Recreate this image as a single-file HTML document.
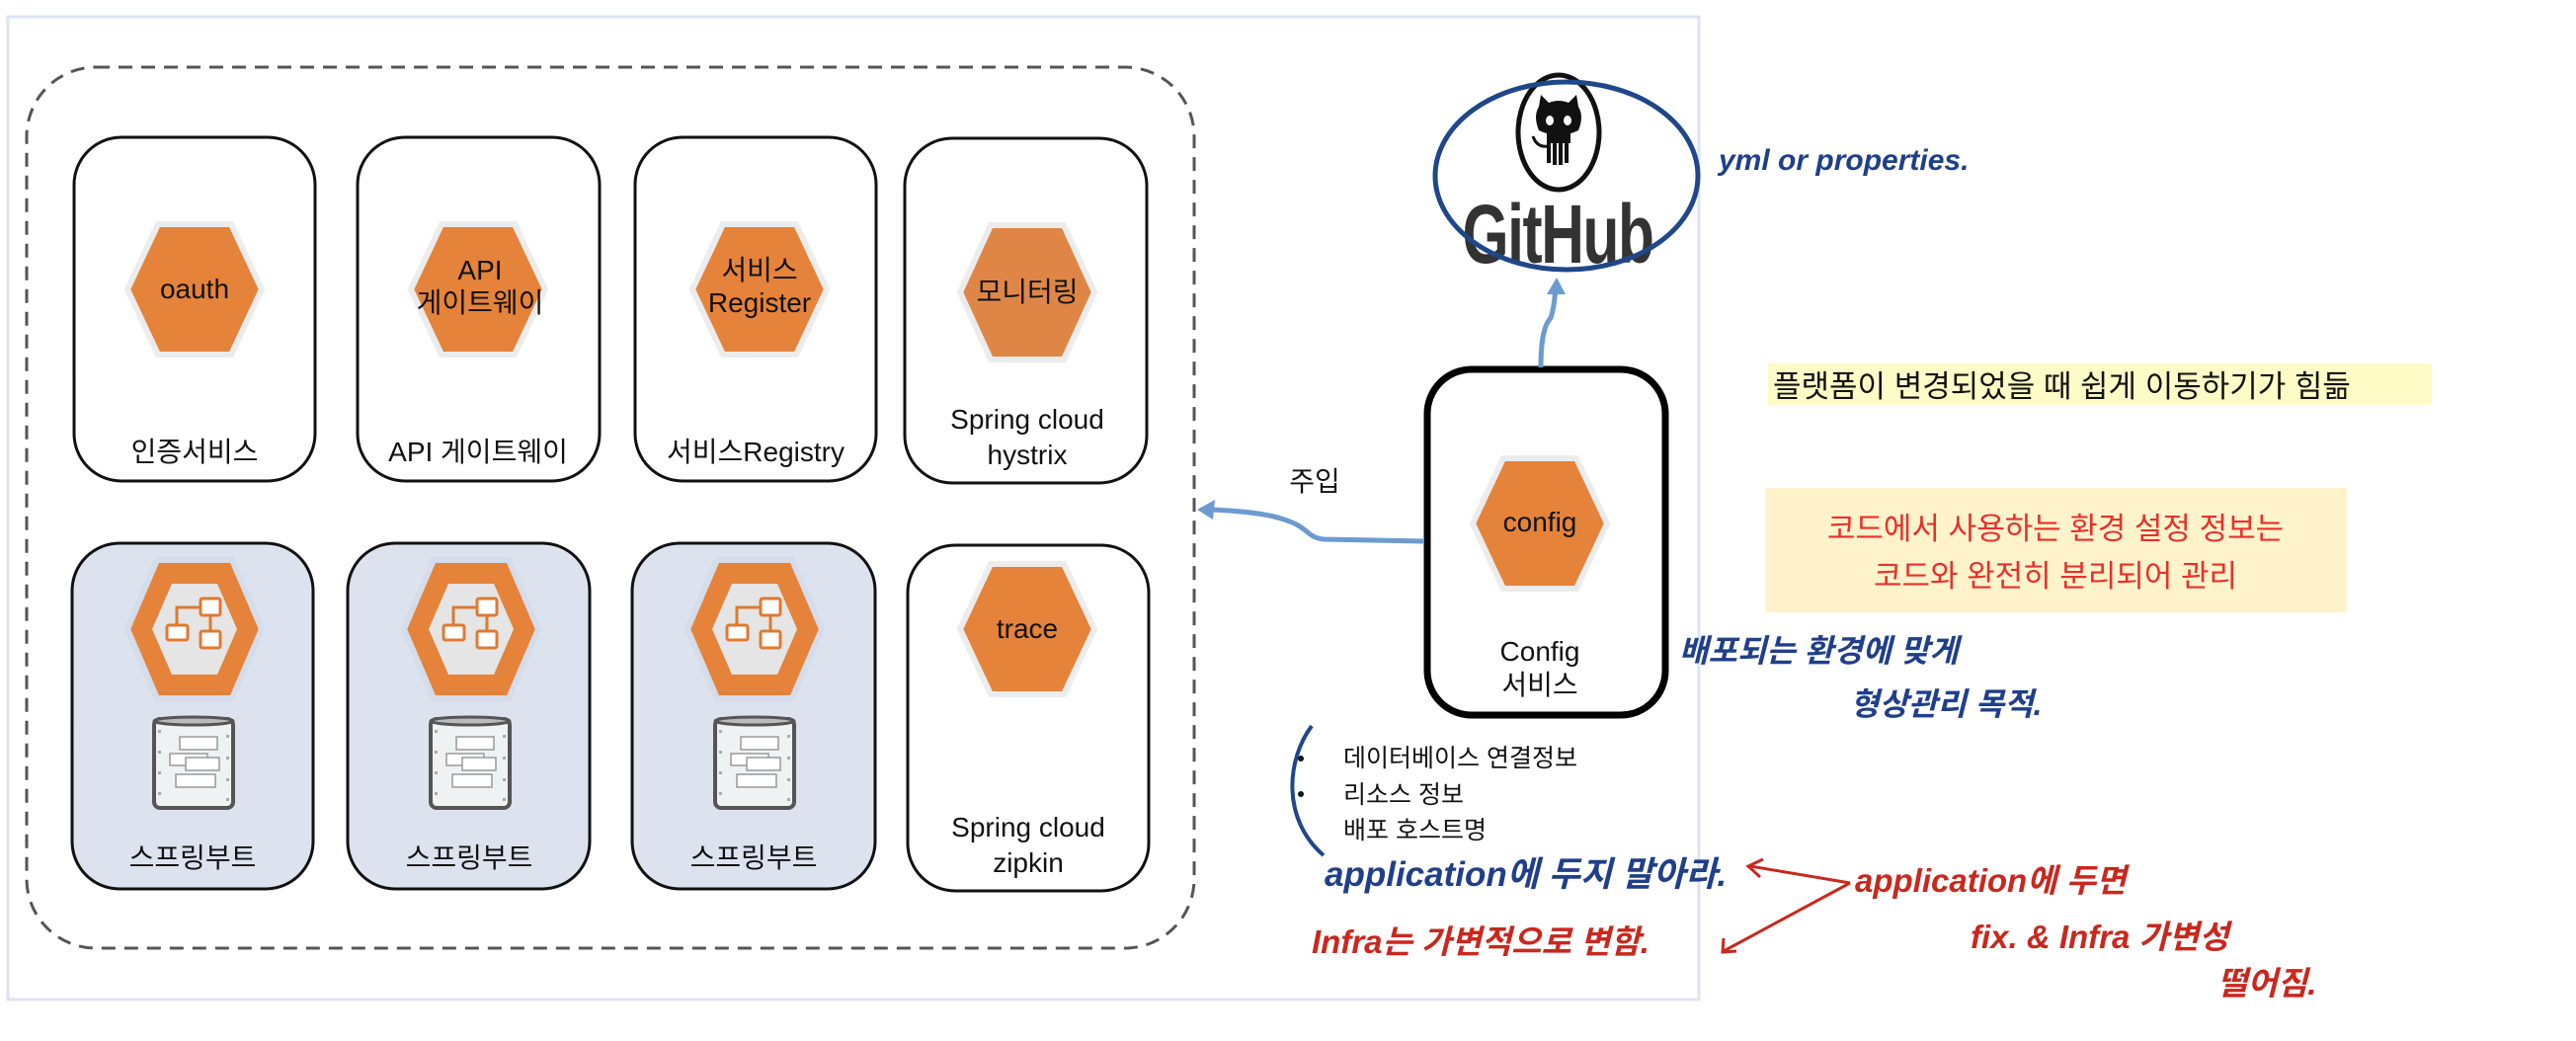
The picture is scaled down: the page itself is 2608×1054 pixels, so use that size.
<!DOCTYPE html>
<html><head><meta charset="utf-8"><style>
html,body{margin:0;padding:0;background:#fff}
svg{display:block}
text{font-family:"Liberation Sans","Noto Sans CJK KR",sans-serif}
.hw{font-family:"Liberation Serif","NanumGothic",serif;font-style:italic}
</style></head><body>
<svg width="2608" height="1054" viewBox="0 0 2608 1054" xmlns="http://www.w3.org/2000/svg">
<defs>
<g id="hexsolid"><polygon points="-37,-66 37,-66 68,0 37,66 -37,66 -68,0" fill="#e5833a" stroke="#ececec" stroke-width="6"/></g>
<g id="boot">
<polygon points="-38,-70 38,-70 68,0 38,70 -38,70 -68,0" fill="#e5833a" stroke="#d5dcea" stroke-width="6"/>
<polygon points="-23,-46 23,-46 43,0 23,46 -23,46 -43,0" fill="#e5e5e5"/>
<g fill="#fff" stroke="#e07a30" stroke-width="3">
<rect x="6" y="-31" width="20" height="17" rx="2"/>
<rect x="6" y="2" width="20" height="17" rx="2"/>
<rect x="-28" y="-4" width="21" height="15" rx="2"/>
</g>
<path d="M-18,-4 V-22 H6 M16,-14 V2" fill="none" stroke="#e07a30" stroke-width="3"/>
</g>
<g id="db">
<rect x="-40" y="-44" width="80" height="90" rx="6" fill="#eef2f3" stroke="#555" stroke-width="4"/>
<ellipse cx="0" cy="-42" rx="40" ry="4" fill="#bbb" stroke="#555" stroke-width="3"/>
<g fill="#fff" stroke="#999" stroke-width="1.5">
<rect x="-14" y="-26" width="38" height="13"/><rect x="-24" y="-9" width="38" height="12"/><rect x="-8" y="-5" width="34" height="13"/><rect x="-18" y="12" width="40" height="13"/>
</g>
<g fill="#aaa"><rect x="-36" y="-33" width="3" height="3"/><rect x="-36" y="-12" width="3" height="3"/><rect x="-36" y="9" width="3" height="3"/><rect x="-36" y="30" width="3" height="3"/><rect x="33" y="-28" width="3" height="3"/><rect x="33" y="-6" width="3" height="3"/><rect x="33" y="16" width="3" height="3"/><rect x="33" y="36" width="3" height="3"/></g>
</g>
</defs>

<rect x="8" y="17" width="1712" height="995" fill="none" stroke="#dde3f3" stroke-width="3"/>
<rect x="27" y="68" width="1182" height="892" rx="70" fill="none" stroke="#555" stroke-width="3" stroke-dasharray="14,9"/>

<g fill="#fff" stroke="#111" stroke-width="3">
<rect x="75" y="139" width="244" height="348" rx="48"/>
<rect x="362" y="139" width="245" height="348" rx="48"/>
<rect x="643" y="139" width="244" height="348" rx="48"/>
<rect x="916" y="140" width="245" height="349" rx="48"/>
</g>
<g fill="#dce3ef" stroke="#111" stroke-width="3">
<rect x="73" y="550" width="244" height="350" rx="48"/>
<rect x="352" y="550" width="245" height="350" rx="48"/>
<rect x="640" y="550" width="246" height="350" rx="48"/>
</g>
<rect x="919" y="552" width="244" height="350" rx="48" fill="#fff" stroke="#111" stroke-width="3"/>

<use href="#hexsolid" x="197" y="293"/>
<use href="#hexsolid" x="484" y="293"/>
<use href="#hexsolid" x="769" y="293"/>
<g transform="translate(1040,296)"><polygon points="-37,-68 37,-68 68,0 37,68 -37,68 -68,0" fill="#df8646" stroke="#ececec" stroke-width="6"/></g>
<use href="#hexsolid" x="1040" y="637"/>

<g font-size="28" text-anchor="middle" fill="#111">
<text x="197" y="302">oauth</text>
<text x="486" y="283">API</text><text x="486" y="316">게이트웨이</text>
<text x="769" y="283">서비스</text><text x="769" y="316">Register</text>
<text x="1040" y="305">모니터링</text>
<text x="1040" y="646">trace</text>
<text x="197" y="467">인증서비스</text>
<text x="484" y="467">API 게이트웨이</text>
<text x="765" y="467">서비스Registry</text>
<text x="1040" y="434">Spring cloud</text><text x="1040" y="470">hystrix</text>
<text x="1041" y="847">Spring cloud</text><text x="1041" y="883">zipkin</text>
<text x="195" y="878">스프링부트</text>
<text x="475" y="878">스프링부트</text>
<text x="763" y="878">스프링부트</text>
</g>

<use href="#boot" x="197" y="637"/>
<use href="#boot" x="477" y="637"/>
<use href="#boot" x="764" y="637"/>
<use href="#db" x="196" y="772"/>
<use href="#db" x="476" y="772"/>
<use href="#db" x="764" y="772"/>

<rect x="1445" y="374" width="241" height="350" rx="45" fill="#fff" stroke="#000" stroke-width="7"/>
<use href="#hexsolid" x="1559" y="530"/>
<g font-size="28" text-anchor="middle" fill="#111">
<text x="1559" y="538">config</text>
<text x="1559" y="669">Config</text>
<text x="1559" y="703">서비스</text>
<text x="1331" y="497">주입</text>
</g>

<path d="M1442,548 L1340,546 C1322,544 1326,534 1300,526 C1280,519 1250,517 1225,516" fill="none" stroke="#6b9bd1" stroke-width="5"/>
<polygon points="1212,516 1230,506 1228,526" fill="#6b9bd1"/>
<path d="M1560,372 C1560,350 1562,330 1570,322 C1574,310 1574,300 1575,292" fill="none" stroke="#6b9bd1" stroke-width="5"/>
<polygon points="1576,281 1566,298 1585,298" fill="#6b9bd1"/>

<ellipse cx="1578" cy="134" rx="41" ry="58" fill="#fff" stroke="#111" stroke-width="5"/>
<g fill="#111">
<path d="M1558,108 L1560,96 L1568,104 Q1578,100 1588,104 L1596,96 L1598,108 Q1604,118 1598,132 Q1578,142 1558,132 Q1552,118 1558,108Z"/>
<rect x="1566" y="135" width="24" height="10"/>
<path d="M1568,143 v22 M1574,143 v24 M1580,143 v24 M1586,143 v22" stroke="#111" stroke-width="4"/>
<path d="M1568,148 q-12,2 -16,-10" stroke="#111" stroke-width="3" fill="none"/>
</g>
<ellipse cx="1569" cy="122" rx="4" ry="5" fill="#fff"/><ellipse cx="1587" cy="122" rx="4" ry="5" fill="#fff"/>
<text x="1577" y="266" font-size="84" font-weight="bold" text-anchor="middle" fill="#333" transform="translate(1577,0) scale(0.72,1) translate(-1577,0)" letter-spacing="-2">GitHub</text>
<ellipse cx="1586" cy="178" rx="133" ry="95" fill="none" stroke="#1f4789" stroke-width="5"/>

<rect x="1790" y="368" width="672" height="42" fill="#fdfbc6"/>
<text x="1795" y="402" font-size="31" fill="#111">플랫폼이 변경되었을 때 쉽게 이동하기가 힘듦</text>
<rect x="1787" y="494" width="589" height="126" fill="#fff3cc"/>
<g font-size="31" fill="#e8302a" text-anchor="middle">
<text x="2081" y="546">코드에서 사용하는 환경 설정 정보는</text>
<text x="2081" y="594">코드와 완전히 분리되어 관리</text>
</g>

<g font-size="25" fill="#111">
<text x="1360" y="776">데이터베이스 연결정보</text>
<text x="1360" y="813">리소스 정보</text>
<text x="1360" y="849">배포 호스트명</text>
<circle cx="1317" cy="768" r="3"/><circle cx="1317" cy="804" r="3"/>
</g>
<path d="M1328,735 C1302,770 1298,830 1340,866" fill="none" stroke="#1f4789" stroke-width="4"/>

<g class="hw" fill="#1f3f8a" font-weight="bold">
<text x="1740" y="172" font-size="30">yml or properties.</text>
<text x="1700" y="670" font-size="32">배포되는 환경에 맞게</text>
<text x="1873" y="724" font-size="32">형상관리 목적.</text>
<text x="1341" y="897" font-size="35">application에 두지 말아라.</text>
</g>
<g class="hw" fill="#c8281e" font-weight="bold">
<text x="1328" y="965" font-size="33">Infra는 가변적으로 변함.</text>
<text x="1878" y="903" font-size="33">application에 두면</text>
<text x="1995" y="960" font-size="33">fix. &amp; Infra 가변성</text>
<text x="2245" y="1007" font-size="33">떨어짐.</text>
</g>
<g stroke="#c8281e" stroke-width="3" fill="none">
<path d="M1873,894 L1772,877 M1873,894 L1745,963"/>
<path d="M1785,870 L1770,877 L1782,888 M1745,950 L1744,964 L1758,963"/>
</g>
</svg>
</body></html>
